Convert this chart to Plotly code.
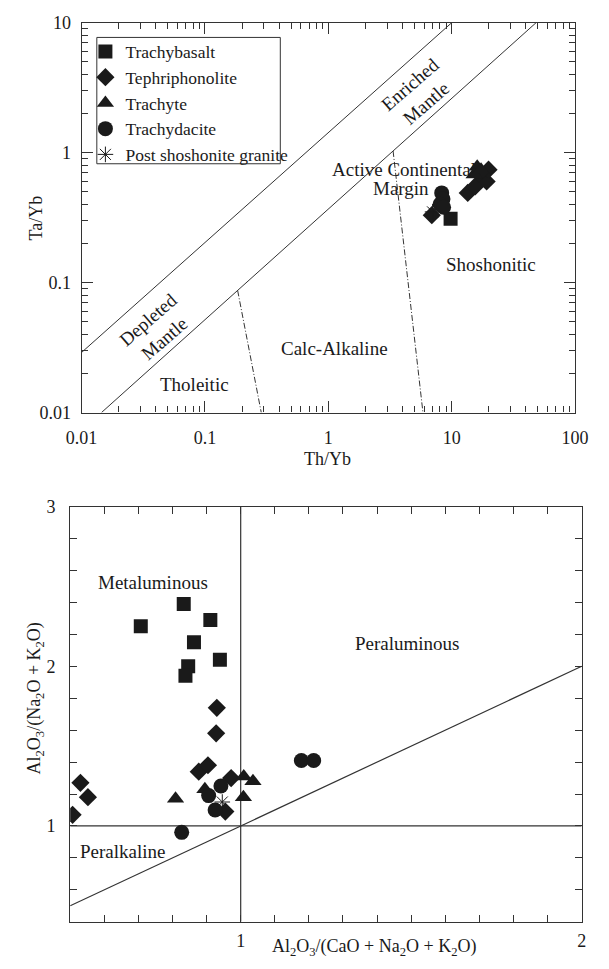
import math
import plotly.graph_objects as go

W, H = 609, 969
FONT = "Liberation Serif"
INK = "#1a1a1a"
LINE = "#333333"

# ---------------- top diagram (Th/Yb vs Ta/Yb) data ----------------
top_trachybasalt_x = [9.8]
top_trachybasalt_y = [0.31]
top_tephriphonolite_x = [6.9, 13.5, 15.5, 19.2, 19.9, 16.7]
top_tephriphonolite_y = [0.33, 0.49, 0.55, 0.60, 0.74, 0.69]
top_trachyte_x = [16.1, 15.2, 17.3]
top_trachyte_y = [0.78, 0.68, 0.74]
top_trachydacite_x = [8.3, 8.5, 8.05, 8.6]
top_trachydacite_y = [0.49, 0.44, 0.40, 0.38]
top_granite_x = [7.0]
top_granite_y = [0.35]

# boundary lines of the top diagram
upper_array_x = [0.01, 10.0]
upper_array_y = [0.029, 10.0]
lower_array_x = [0.0145, 48.3]
lower_array_y = [0.01, 10.0]
tholeiitic_div_x = [0.184, 0.286]
tholeiitic_div_y = [0.087, 0.01]
shoshonitic_div_x = [3.35, 5.85]
shoshonitic_div_y = [1.03, 0.01]

top_xtick_vals = [0.01, 0.1, 1, 10, 100]
top_xtick_text = ["0.01", "0.1", "1", "10", "100"]
top_ytick_vals = [0.01, 0.1, 1, 10]
top_ytick_text = ["0.01", "0.1", "1", "10"]

# ---------------- bottom diagram (A/CNK vs A/NK) data ----------------
bot_trachybasalt_x = [0.833, 0.707, 0.911, 0.863, 0.939, 0.846, 0.838]
bot_trachybasalt_y = [2.39, 2.25, 2.29, 2.15, 2.04, 2.00, 1.94]
bot_tephriphonolite_x = [0.930, 0.928, 0.530, 0.552, 0.507, 0.877, 0.904, 0.972, 0.955]
bot_tephriphonolite_y = [1.74, 1.58, 1.27, 1.18, 1.07, 1.34, 1.38, 1.30, 1.09]
bot_trachyte_x = [0.809, 0.895, 1.009, 1.036, 1.008]
bot_trachyte_y = [1.17, 1.23, 1.31, 1.28, 1.18]
bot_trachydacite_x = [1.178, 1.214, 0.942, 0.906, 0.925, 0.827]
bot_trachydacite_y = [1.41, 1.41, 1.25, 1.19, 1.10, 0.96]
bot_granite_x = [0.946]
bot_granite_y = [1.15]

bot_x_range = [0.5, 2.0]
bot_y_range = [0.4, 3.0]
bot_xtick_vals = [1, 2]
bot_ytick_vals = [1, 2, 3]

series = [
    ("Trachybasalt", "square", 14, top_trachybasalt_x, top_trachybasalt_y, bot_trachybasalt_x, bot_trachybasalt_y),
    ("Tephriphonolite", "diamond", 14, top_tephriphonolite_x, top_tephriphonolite_y, bot_tephriphonolite_x, bot_tephriphonolite_y),
    ("Trachyte", "triangle-up", 15, top_trachyte_x, top_trachyte_y, bot_trachyte_x, bot_trachyte_y),
    ("Trachydacite", "circle", 15, top_trachydacite_x, top_trachydacite_y, bot_trachydacite_x, bot_trachydacite_y),
    ("Post shoshonite granite", "asterisk-open", 13, top_granite_x, top_granite_y, bot_granite_x, bot_granite_y),
]


def px(x):
    return x / W


def py(y):
    return 1 - y / H


fig = go.Figure()

# boundary lines (top)
for xs, ys, dash in [
    (upper_array_x, upper_array_y, "solid"),
    (lower_array_x, lower_array_y, "solid"),
    (tholeiitic_div_x, tholeiitic_div_y, "6px,2px,1px,2px"),
    (shoshonitic_div_x, shoshonitic_div_y, "6px,2px,1px,2px"),
]:
    fig.add_trace(go.Scatter(x=xs, y=ys, mode="lines", xaxis="x", yaxis="y",
                             line=dict(color=LINE, width=1, dash=dash),
                             showlegend=False, hoverinfo="skip"))

# boundary lines (bottom)
fig.add_trace(go.Scatter(x=[1, 1], y=bot_y_range, mode="lines", xaxis="x2", yaxis="y2",
                         line=dict(color=LINE, width=1.2), showlegend=False, hoverinfo="skip"))
fig.add_trace(go.Scatter(x=bot_x_range, y=[1, 1], mode="lines", xaxis="x2", yaxis="y2",
                         line=dict(color=LINE, width=1.2), showlegend=False, hoverinfo="skip"))
fig.add_trace(go.Scatter(x=bot_x_range, y=bot_x_range, mode="lines", xaxis="x2", yaxis="y2",
                         line=dict(color=LINE, width=1.2), showlegend=False, hoverinfo="skip"))

for name, sym, size, tx, ty, bx, by in series:
    if sym == "asterisk-open":
        mk = dict(symbol=sym, size=size, color=INK, line=dict(color=INK, width=1))
    else:
        mk = dict(symbol=sym, size=size, color=INK, line=dict(width=0))
    fig.add_trace(go.Scatter(x=tx, y=ty, mode="markers", name=name, xaxis="x", yaxis="y",
                             marker=mk, showlegend=True))
    fig.add_trace(go.Scatter(x=bx, y=by, mode="markers", name=name, xaxis="x2", yaxis="y2",
                             marker=mk, showlegend=False))

axis_common = dict(showline=True, linecolor=LINE, linewidth=1.2, mirror="allticks",
                   ticks="inside", tickcolor=LINE, showgrid=False, zeroline=False,
                   tickfont=dict(family=FONT, size=18, color=INK))

top_minor = [m * 10 ** e for e in range(-2, 2) for m in range(2, 10)]
top_minor_y = [m * 10 ** e for e in range(-2, 1) for m in range(2, 10)]

fig.update_layout(
    width=W, height=H,
    margin=dict(l=0, r=0, t=0, b=0),
    paper_bgcolor="white", plot_bgcolor="white",
    font=dict(family=FONT, size=18, color=INK),
    xaxis=dict(type="log", range=[-2, 2], domain=[px(69), px(588)], anchor="y",
               tickvals=top_xtick_vals, ticktext=top_xtick_text, ticklen=11, ticklabelstandoff=9,
               minor=dict(ticks="inside", ticklen=6, tickvals=top_minor, tickcolor=LINE, showgrid=False),
               **axis_common),
    yaxis=dict(type="log", range=[-2, 1], domain=[py(411), py(13)], anchor="x",
               tickvals=top_ytick_vals, ticktext=top_ytick_text, ticklen=11, ticklabelstandoff=6,
               minor=dict(ticks="inside", ticklen=6, tickvals=top_minor_y, tickcolor=LINE, showgrid=False),
               **axis_common),
    xaxis2=dict(range=bot_x_range, domain=[px(57), px(595)], anchor="y2",
                tickvals=bot_xtick_vals, ticklen=7, ticklabelstandoff=3,
                minor=dict(ticks="inside", ticklen=7, dtick=0.1, tick0=0.5, tickcolor=LINE, showgrid=False),
                **axis_common),
    yaxis2=dict(range=bot_y_range, domain=[py(931), py(507)], anchor="x2",
                tickvals=bot_ytick_vals, ticklen=7, ticklabelstandoff=10,
                minor=dict(ticks="inside", ticklen=7, dtick=0.2, tick0=0.4, tickcolor=LINE, showgrid=False),
                **axis_common),
    showlegend=True,
    legend=dict(x=px(73), y=py(24), xanchor="left", yanchor="top",
                bgcolor="rgba(0,0,0,0)", borderwidth=0,
                font=dict(family=FONT, size=17.5, color=INK), itemwidth=30,
                tracegroupgap=0),
)

# legend frame
fig.add_shape(type="rect", xref="paper", yref="paper", x0=px(85), x1=px(278), y0=py(157), y1=py(28),
              line=dict(color=LINE, width=1), fillcolor="white", layer="above")


def label(text, x, y, size=19, angle=0):
    fig.add_annotation(text=text, x=px(x), y=py(y), xref="paper", yref="paper",
                       xanchor="center", yanchor="middle",
                       showarrow=False, textangle=angle,
                       font=dict(family=FONT, size=size, color=INK))


# top region labels
label("Enriched<br>Mantle", 423, 86, angle=-41)
label("Depleted<br>Mantle", 148, 326, angle=-41)
label("Active Continental", 408, 163)
label("Margin", 405, 182)
label("Shoshonitic", 500, 260)
label("Calc-Alkaline", 335, 346)
label("Tholeitic", 188, 382)
# top axis titles
label("Th/Yb", 328, 458, size=18)
label("Ta/Yb", 21, 212, size=18, angle=-90)

# bottom region labels
label("Metaluminous", 144, 585)
label("Peraluminous", 412, 647)
label("Peralkaline", 112, 859)
# bottom axis titles
label("Al<sub>2</sub>O<sub>3</sub>/(CaO + Na<sub>2</sub>O + K<sub>2</sub>O)", 377, 957, size=18)
label("Al<sub>2</sub>O<sub>3</sub>/(Na<sub>2</sub>O + K<sub>2</sub>O)", 21, 703, size=18, angle=-90)

fig.write_html("out.html")
